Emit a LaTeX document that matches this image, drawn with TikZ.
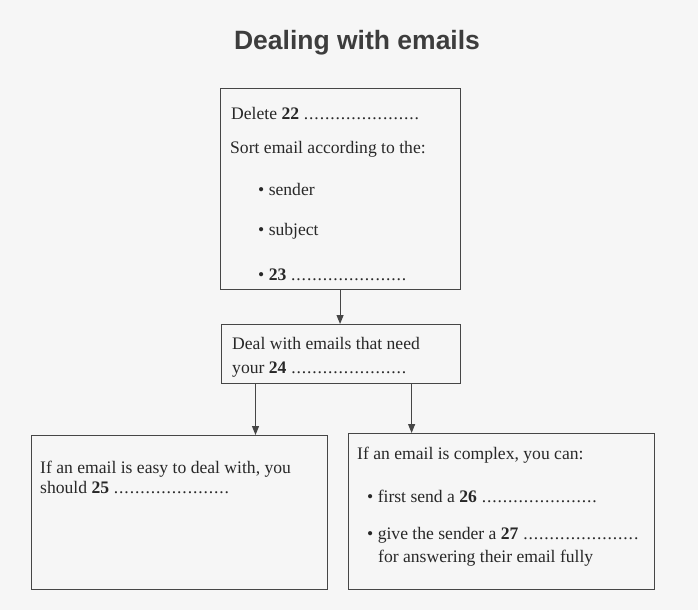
\documentclass[tikz,border=0pt]{standalone}
\usepackage{fontspec}
\setmainfont{Liberation Serif}
\newfontfamily\titlefont{Liberation Sans}
\usepackage{tikz}
\usetikzlibrary{arrows.meta, positioning}

\definecolor{paper}{RGB}{246,246,246}
\definecolor{ink}{RGB}{40,40,40}
\definecolor{frame}{RGB}{70,70,70}
\newcommand{\answerdots}{\hbox to 116pt{\leaders\hbox to 5.27pt{\hss.\hss}\hfill}}

\begin{document}
\begin{tikzpicture}[x=1pt, y=-1pt,
    box/.style={draw=frame, line width=1.1pt, anchor=north west, inner sep=0pt},
    line/.style={anchor=base west, inner sep=0pt, text=ink, font=\fontsize{17.6}{20}\selectfont},
    flow/.style={draw=frame, line width=1.1pt, -{Triangle[width=7pt,length=9pt]}}]
  % Page
  \fill[paper] (0,0) rectangle (698,610);
  \useasboundingbox (0,0) rectangle (698,610);
  % Title
  \node[anchor=base, text=ink!90, font=\titlefont\bfseries\fontsize{26.5}{30}\selectfont] (title) at (357,50) {Dealing with emails};
  % Boxes
  \node[box, minimum width=240pt, minimum height=201pt] (sortbox) at (220,88) {};
  \node[box, minimum width=239pt, minimum height=59pt] (needbox) at (221,324) {};
  \node[box, minimum width=296pt, minimum height=154pt] (easybox) at (31,435) {};
  \node[box, minimum width=306pt, minimum height=156pt] (complexbox) at (348,433) {};
  % Box texts
  \node[line] (delete) at (231,119) {Delete \textbf{22} \answerdots};
  \node[line] (sort) at (230,153) {Sort email according to the:};
  \node[line] (sender) at (258,195) {\textbullet\ sender};
  \node[line] (subject) at (258,235) {\textbullet\ subject};
  \node[line] (item23) at (258,280) {\textbullet\ \textbf{23} \answerdots};
  \node[line] (deal) at (232,349) {Deal with emails that need};
  \node[line] (item24) at (232,373) {your \textbf{24} \answerdots};
  \node[line] (easy) at (40,473) {If an email is easy to deal with, you};
  \node[line] (item25) at (40,493) {should \textbf{25} \answerdots};
  \node[line] (complex) at (357,459) {If an email is complex, you can:};
  \node[line] (item26) at (367,502) {\textbullet\ first send a \textbf{26} \answerdots};
  \node[line] (item27) at (367,539) {\textbullet\ give the sender a \textbf{27} \answerdots};
  \node[line] (fully) at (378,562) {for answering their email fully};
  % Arrows
  \draw[flow] ([xshift=-0.5pt]sortbox.south) -- ([xshift=-0.5pt]sortbox.south |- needbox.north);
  \draw[flow] ([xshift=34.5pt]needbox.south west) -- ([xshift=34.5pt]needbox.south west |- easybox.north);
  \draw[flow] ([xshift=-49.5pt]needbox.south east) -- ([xshift=-49.5pt]needbox.south east |- complexbox.north);
\end{tikzpicture}
\end{document}
